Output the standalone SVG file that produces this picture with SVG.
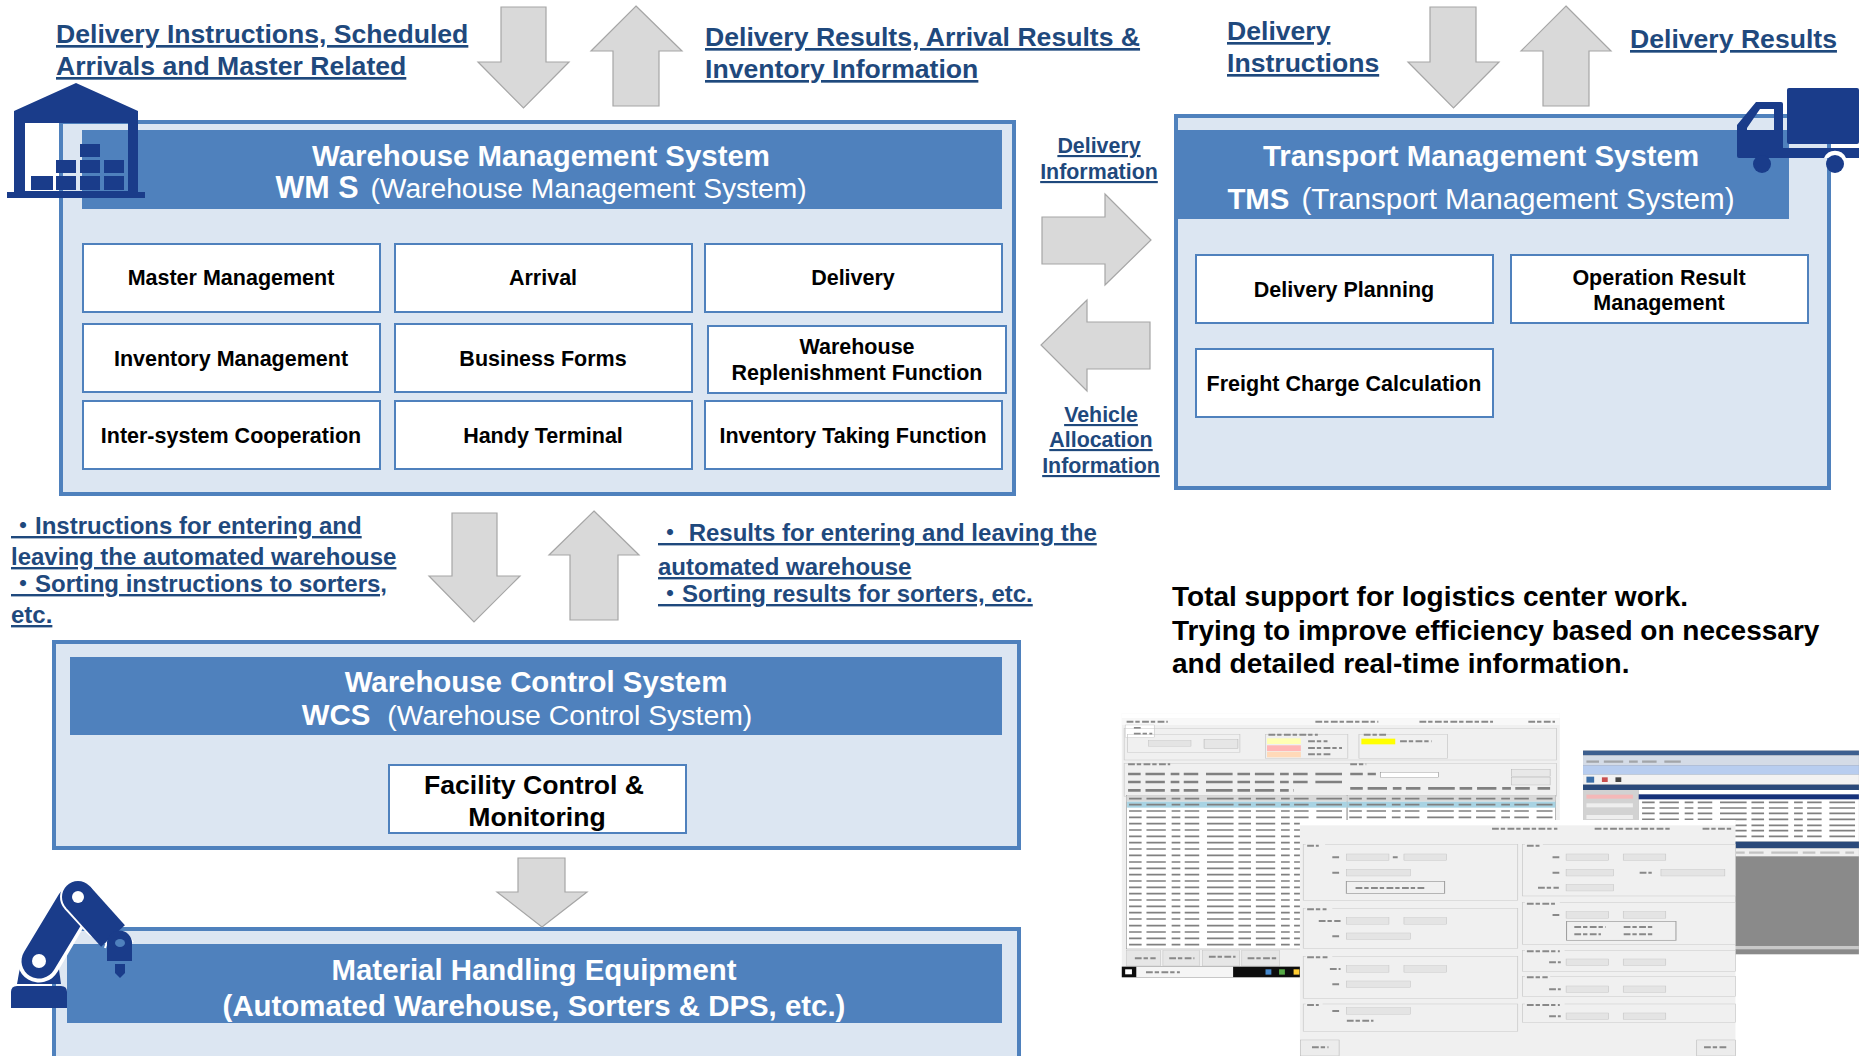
<svg xmlns="http://www.w3.org/2000/svg" width="1859" height="1056" viewBox="0 0 1859 1056">
<defs>
<style>
text{font-family:"Liberation Sans",Arial,"Noto Sans CJK JP",sans-serif}
.panel{fill:#dce6f2;stroke:#4f81bd;stroke-width:4}
.hdr{fill:#4f81bd}
.box{fill:#fff;stroke:#4f81bd;stroke-width:2}
.arrow{fill:#d9d9d9;stroke:#a6a6a6;stroke-width:1.2}
.t{font-size:21.5px;font-weight:700;fill:#000;text-anchor:middle}
.h{font-size:29.4px;font-weight:700;fill:#fff;text-anchor:middle}
.hs{font-weight:400}
.l{font-size:26.6px;font-weight:700;fill:#1f497d;text-decoration:underline}
.m{font-size:21.4px;text-anchor:middle}
.s{font-size:24px}
.big{font-size:28px;font-weight:700;fill:#000}
.ic{fill:#1a3c8a}
.g{fill:none;stroke:#c8c8c8;stroke-width:1.5}
.f{fill:#e4e4e4;stroke:#bdbdbd;stroke-width:1}
.d{fill:none;stroke:#888;stroke-width:6;stroke-dasharray:14 4 9 5}
.dk{fill:none;stroke:#808080;stroke-width:7;stroke-dasharray:26 10 40 12 18 9 30 16 55 10}
</style>
<filter id="soft" x="-2%" y="-2%" width="104%" height="104%"><feGaussianBlur stdDeviation="0.9"/></filter>
</defs>

<g id="wms">
<rect class="panel" x="61" y="122" width="953" height="372"/>
<rect class="hdr" x="82" y="130" width="920" height="79"/>
<text class="h" x="541" y="166">Warehouse Management System</text>
<text class="h" x="541" y="198"><tspan style="font-size:30.5px">WM S</tspan><tspan class="hs" style="font-size:28.2px" dx="12">(Warehouse Management System)</tspan></text>
</g>
<g id="wms-master"><rect class="box" x="83" y="244" width="297" height="68"/><text class="t" x="231" y="285">Master Management</text></g>
<g id="wms-arrival"><rect class="box" x="395" y="244" width="297" height="68"/><text class="t" x="543" y="285">Arrival</text></g>
<g id="wms-delivery"><rect class="box" x="705" y="244" width="297" height="68"/><text class="t" x="853" y="285">Delivery</text></g>
<g id="wms-inventory"><rect class="box" x="83" y="324" width="297" height="68"/><text class="t" x="231" y="366">Inventory Management</text></g>
<g id="wms-forms"><rect class="box" x="395" y="324" width="297" height="68"/><text class="t" x="543" y="366">Business Forms</text></g>
<g id="wms-replenish"><rect class="box" x="708" y="326" width="298" height="67"/><text class="t" x="857" y="354">Warehouse</text><text class="t" x="857" y="380">Replenishment Function</text></g>
<g id="wms-cooperation"><rect class="box" x="83" y="401" width="297" height="68"/><text class="t" x="231" y="443">Inter-system Cooperation</text></g>
<g id="wms-handy"><rect class="box" x="395" y="401" width="297" height="68"/><text class="t" x="543" y="443">Handy Terminal</text></g>
<g id="wms-taking"><rect class="box" x="705" y="401" width="297" height="68"/><text class="t" x="853" y="443">Inventory Taking Function</text></g>

<g id="tms">
<rect class="panel" x="1176" y="116" width="653" height="372"/>
<rect class="hdr" x="1174" y="130" width="615" height="89"/>
<text class="h" x="1481" y="166">Transport Management System</text>
<text class="h" x="1481" y="209"><tspan>TMS</tspan><tspan class="hs" style="font-size:29.6px" dx="12">(Transport Management System)</tspan></text>
</g>
<g id="tms-planning"><rect class="box" x="1196" y="255" width="297" height="68"/><text class="t" x="1344" y="297">Delivery Planning</text></g>
<g id="tms-result"><rect class="box" x="1511" y="255" width="297" height="68"/><text class="t" x="1659" y="285">Operation Result</text><text class="t" x="1659" y="310">Management</text></g>
<g id="tms-freight"><rect class="box" x="1196" y="349" width="297" height="68"/><text class="t" x="1344" y="391">Freight Charge Calculation</text></g>

<g id="wcs">
<rect class="panel" x="54" y="642" width="965" height="206"/>
<rect class="hdr" x="70" y="657" width="932" height="78"/>
<text class="h" x="536" y="692">Warehouse Control System</text>
<text class="h" x="527" y="725"><tspan>WCS</tspan><tspan class="hs" style="font-size:28.4px" dx="17">(Warehouse Control System)</tspan></text>
</g>
<g id="wcs-facility"><rect class="box" x="389" y="765" width="297" height="68"/><text class="t" style="font-size:26.6px" x="534" y="794">Facility Control &amp;</text><text class="t" style="font-size:26.6px" x="537" y="826">Monitoring</text></g>

<g id="mhe">
<rect class="panel" x="54" y="929" width="965" height="140"/>
<rect class="hdr" x="67" y="944" width="935" height="79"/>
<text class="h" x="534" y="980">Material Handling Equipment</text>
<text class="h" x="534" y="1016">(Automated Warehouse, Sorters &amp; DPS, etc.)</text>
</g>

<g id="connectors">
<polygon class="arrow" points="501,7 546,7 546,62 569,62 523.500,108 478,62 501,62"/>
<polygon class="arrow" points="636,6 682,51 659,51 659,106 613,106 613,51 591,51"/>
<polygon class="arrow" points="1430,7 1476,7 1476,62 1499,62 1453.500,108 1408,62 1430,62"/>
<polygon class="arrow" points="1566,6 1611,51 1589,51 1589,106 1543,106 1543,51 1521,51"/>
<polygon class="arrow" points="1042,217 1105,217 1105,194 1151,240 1105,285 1105,264 1042,264"/>
<polygon class="arrow" points="1150,322 1087,322 1087,300 1041,345 1087,391 1087,369 1150,369"/>
<polygon class="arrow" points="452,513 497,513 497,576 520,576 474,622 429,576 452,576"/>
<polygon class="arrow" points="594,511 639,555 618,555 618,620 570,620 570,555 549,555"/>
<polygon class="arrow" points="518,858 565,858 565,892 587,892 542,927 497,892 518,892"/>
</g>

<g id="label-delivery-instructions"><text class="l" x="56" y="43">Delivery Instructions, Scheduled</text><text class="l" x="56" y="75">Arrivals and Master Related</text></g>
<g id="label-delivery-results"><text class="l" x="705" y="46">Delivery Results, Arrival Results &amp;</text><text class="l" x="705" y="78">Inventory Information</text></g>
<g id="label-tms-instructions"><text class="l" x="1227" y="40">Delivery</text><text class="l" x="1227" y="72">Instructions</text></g>
<g id="label-tms-results"><text class="l" x="1630" y="48">Delivery Results</text></g>
<g id="label-delivery-information"><text class="l m" x="1099" y="153">Delivery</text><text class="l m" x="1099" y="179">Information</text></g>
<g id="label-vehicle"><text class="l m" x="1101" y="422">Vehicle</text><text class="l m" x="1101" y="447">Allocation</text><text class="l m" x="1101" y="473">Information</text></g>
<g id="label-wcs-instructions"><text class="l s" x="11" y="534">・Instructions for entering and</text><text class="l s" x="11" y="565">leaving the automated warehouse</text><text class="l s" x="11" y="592">・Sorting instructions to sorters,</text><text class="l s" x="11" y="623">etc.</text></g>
<g id="label-wcs-results"><text class="l s" x="658" y="541">・ Results for entering and leaving the</text><text class="l s" x="658" y="575">automated warehouse</text><text class="l s" x="658" y="602">・Sorting results for sorters, etc.</text></g>
<g id="summary"><text class="big" x="1172" y="606">Total support for logistics center work.</text><text class="big" x="1172" y="640">Trying to improve efficiency based on necessary</text><text class="big" x="1172" y="673">and detailed real-time information.</text></g>

<g id="icon-warehouse" class="ic">
<path fill-rule="evenodd" d="M76 83L138 111V192H145V198H7V192H14V111ZM25 123V191H128V123Z"/>
<rect x="31" y="176" width="22" height="14"/><rect x="56" y="176" width="20" height="14"/><rect x="80" y="176" width="20" height="14"/><rect x="104" y="176" width="20" height="14"/>
<rect x="56" y="160" width="20" height="13"/><rect x="80" y="160" width="20" height="13"/><rect x="104" y="160" width="20" height="13"/>
<rect x="80" y="144" width="20" height="13"/>
</g>

<g id="icon-truck" class="ic">
<rect x="1787" y="88" width="72" height="56" rx="2"/>
<path fill-rule="evenodd" d="M1737 125L1756 102H1781Q1783 102 1783 104V148H1859V158H1739Q1737 158 1737 156ZM1747 128V130H1774V109H1760Z"/>
<path d="M1824 158A12 12 0 0 1 1846 158Z" fill="#fff"/>
<circle cx="1762" cy="164" r="9"/><circle cx="1835" cy="164" r="9"/>
</g>

<g id="icon-robot" class="ic">
<path d="M11 992Q11 986 17 986H61Q67 986 67 992V1008H11Z"/>
<path d="M17 984L21 962H58L61 984Z"/>
<path d="M39 961L70 908" fill="none" stroke="#fff" stroke-width="43" stroke-linecap="round"/>
<path d="M39 961L74 903" fill="none" stroke="#1a3c8a" stroke-width="35" stroke-linecap="round"/>
<path d="M78 897L100 921" fill="none" stroke="#fff" stroke-width="36" stroke-linecap="round"/>
<circle cx="78" cy="897" r="16"/>
<path d="M78 897L113 936" fill="none" stroke="#1a3c8a" stroke-width="32"/>
<path d="M105 948A15.500 15.500 0 0 1 133 942" fill="none" stroke="#fff" stroke-width="2"/>
<path d="M107 961V943A12.500 12.500 0 0 1 132 943V961Z"/>
<circle cx="39" cy="961" r="7" fill="#fff"/><circle cx="78" cy="897" r="6" fill="#fff"/>
<ellipse cx="120" cy="943" rx="5" ry="4" fill="#4f81bd"/>
<path d="M115 964H125V973L120 978L115 973Z"/>
</g>

<g id="screens" transform="matrix(0.484 0 0 0.3333 1100 700)" filter="url(#soft)">
<g id="screen-back">
<rect x="998" y="152" width="570" height="611" fill="#8a8a8a"/>
<rect x="998" y="152" width="570" height="14" fill="#3d5f8f"/>
<rect x="998" y="166" width="570" height="30" fill="#d4dbe6"/>
<path class="dk" d="M1005 185H1200" stroke-opacity=".6"/>
<rect x="998" y="196" width="570" height="28" fill="#b8cdef"/>
<rect x="998" y="224" width="570" height="30" fill="#f2f2f2"/>
<rect x="1005" y="230" width="16" height="18" fill="#3b6ea8"/><rect x="1037" y="232" width="12" height="14" fill="#c94f4f"/><rect x="1065" y="232" width="12" height="14" fill="#444"/>
<rect x="998" y="254" width="570" height="16" fill="#2a4a7a"/>
<rect x="998" y="270" width="115" height="100" fill="#d2d2d2"/>
<rect x="1005" y="284" width="96" height="12" fill="#f4b8b8"/><rect x="1005" y="310" width="96" height="12" fill="#eee"/><rect x="1005" y="345" width="96" height="12" fill="#eee"/>
<rect x="1113" y="270" width="455" height="155" fill="#fff"/>
<rect x="1113" y="283" width="455" height="15" fill="#16307a"/>
<path class="dk" d="M1120 307H1560M1120 324H1560M1120 340H1560M1120 358H1560M1120 376H1560M1120 392H1560M1120 409H1560" style="stroke-width:5"/>
<rect x="998" y="425" width="570" height="20" fill="#2a4a7a"/>
<rect x="998" y="445" width="570" height="24" fill="#efefef"/>
<path class="dk" d="M1000 458H1560" stroke-opacity=".4"/>
<rect x="998" y="738" width="570" height="10" fill="#c8c8c8"/>
</g>
<g id="screen-front-left">
<rect x="45" y="40" width="905" height="792" fill="#f0f0f0"/>
<rect x="45" y="40" width="905" height="15" fill="#fff"/>
<rect x="45" y="55" width="905" height="20" fill="#f8f8f8"/>
<path class="d" d="M55 65H140M445 65H575M660 65H812M885 65H940"/>
<rect x="52" y="75" width="60" height="37" fill="#fff" stroke="#bbb"/>
<path class="d" d="M70 84H85M70 101H108"/>
<rect class="g" x="50" y="85" width="893" height="95"/>
<rect class="g" x="57" y="103" width="232" height="55"/>
<rect class="f" x="100" y="121" width="88" height="18"/>
<rect x="215" y="119" width="70" height="27" fill="#e6e6e6" stroke="#aaa"/>
<rect class="g" x="342" y="103" width="170" height="73"/>
<rect class="g" x="535" y="103" width="183" height="73"/>
<rect x="345" y="115" width="70" height="17" fill="#ffffb4"/><rect x="345" y="136" width="70" height="17" fill="#ffb6b6"/><rect x="345" y="155" width="70" height="17" fill="#ffd9b8"/>
<rect x="540" y="116" width="70" height="17" fill="#ff0"/>
<path class="d" d="M348 104H450M545 104H595M430 124H470M430 144H500M430 163H480M620 124H685"/>
<rect class="g" x="50" y="190" width="893" height="100"/>
<path class="d" d="M58 193H145M517 193H550"/>
<path class="dk" d="M58 222H500M517 222H570M58 246H500M58 271H400M517 265H930" style="stroke-width:8"/>
<rect x="579" y="217" width="120" height="16" fill="#fff" stroke="#777"/>
<rect x="850" y="208" width="80" height="22" fill="#e8e8e8" stroke="#aaa"/><rect x="850" y="233" width="80" height="22" fill="#e8e8e8" stroke="#aaa"/>
<rect x="55" y="286" width="455" height="461" fill="#fff" stroke="#777"/>
<rect x="55" y="286" width="455" height="19" fill="#d9d9d9"/>
<rect x="511" y="286" width="430" height="80" fill="#fff" stroke="#777"/>
<rect x="511" y="286" width="430" height="19" fill="#d9d9d9"/>
<rect x="56" y="305" width="454" height="18" fill="#a8d3e3"/><rect x="511" y="305" width="430" height="18" fill="#a8d3e3"/>
<path class="dk" d="M60 296H500M515 296H935M60 314H500M515 314H935M60 333H500M60 352H500M60 371H500M60 390H500M60 409H500M60 428H500M60 447H500M60 466H500M60 486H500M60 505H500M60 524H500M60 543H500M60 562H500M60 581H500M60 600H500M60 619H500M60 638H500M60 657H500M60 677H500M60 696H500M60 715H500M60 734H500M515 333H935M515 352H935" style="stroke-width:5"/>
<rect x="55" y="752" width="70" height="46" fill="#e6e6e6" stroke="#bbb"/><rect x="130" y="752" width="75" height="46" fill="#e6e6e6" stroke="#bbb"/><rect x="212" y="752" width="76" height="46" fill="#e6e6e6" stroke="#bbb"/><rect x="293" y="752" width="78" height="46" fill="#e6e6e6" stroke="#bbb"/>
<path class="d" d="M72 775H115M143 775H195M225 770H280M305 775H365"/>
<rect x="45" y="800" width="905" height="32" fill="#111"/>
<rect x="75" y="800" width="200" height="32" fill="#f5f5f5"/>
<rect x="52" y="808" width="14" height="15" fill="#fff"/>
<path class="d" d="M95 817H165"/>
<rect x="342" y="808" width="12" height="16" fill="#48c"/><rect x="370" y="808" width="12" height="16" fill="#5a4"/><rect x="400" y="808" width="12" height="16" fill="#fc3"/>
</g>
<g id="screen-front">
<rect x="413" y="360" width="900" height="708" fill="#f0f0f0"/>
<rect x="413" y="360" width="900" height="16" fill="#fff"/>
<path class="d" d="M810 386H945M1022 386H1180M1245 386H1305"/>
<rect class="g" x="420" y="433" width="443" height="168"/><rect class="g" x="420" y="625" width="443" height="120"/><rect class="g" x="420" y="770" width="443" height="125"/><rect class="g" x="420" y="912" width="443" height="83"/>
<rect class="g" x="873" y="433" width="440" height="155"/><rect class="g" x="873" y="608" width="440" height="125"/><rect class="g" x="873" y="752" width="440" height="62"/><rect class="g" x="873" y="830" width="440" height="60"/><rect class="g" x="873" y="912" width="440" height="55"/>
<path fill="none" stroke="#f0f0f0" stroke-width="8" d="M425 433H465M425 625H480M425 770H480M425 912H460M878 433H915M878 608H950M878 752H960M878 830H930M878 912H960"/>
<path class="d" d="M428 437H452M428 628H468M428 772H470M428 915H452M882 437H908M882 611H940M882 754H950M882 832H925M882 915H950"/>
<rect class="f" x="509" y="462" width="88" height="20"/><rect class="f" x="628" y="462" width="88" height="20"/><rect class="f" x="509" y="508" width="132" height="20"/>
<rect x="509" y="545" width="203" height="36" fill="none" stroke="#999" stroke-width="2"/>
<path class="d" d="M480 472H497M480 518H495M528 564H672M605 472H615"/>
<rect class="f" x="509" y="653" width="88" height="20"/><rect class="f" x="628" y="653" width="88" height="20"/><rect class="f" x="509" y="699" width="132" height="20"/>
<path class="d" d="M452 663H497M480 709H495"/>
<rect class="f" x="509" y="797" width="88" height="20"/><rect class="f" x="628" y="797" width="88" height="20"/><rect class="f" x="509" y="843" width="132" height="20"/>
<path class="d" d="M475 807H497M480 853H495"/>
<rect class="f" x="509" y="923" width="132" height="20"/>
<path class="d" d="M480 933H495M510 962H565"/>
<rect class="f" x="963" y="462" width="88" height="20"/><rect class="f" x="1081" y="462" width="88" height="20"/><rect class="f" x="963" y="508" width="98" height="20"/><rect class="f" x="1159" y="508" width="132" height="20"/><rect class="f" x="963" y="553" width="98" height="20"/>
<path class="d" d="M935 472H952M935 518H952M905 563H948M1115 518H1140"/>
<rect class="f" x="963" y="635" width="88" height="20"/><rect class="f" x="1081" y="635" width="88" height="20"/>
<rect x="964" y="665" width="226" height="56" fill="none" stroke="#999" stroke-width="2"/>
<path class="d" d="M935 645H952M980 681H1045M1082 681H1145M980 703H1035M1082 703H1145"/>
<rect class="f" x="963" y="777" width="88" height="20"/><rect class="f" x="1081" y="777" width="88" height="20"/>
<rect class="f" x="963" y="858" width="88" height="20"/><rect class="f" x="1081" y="858" width="88" height="20"/>
<rect class="f" x="963" y="939" width="88" height="20"/><rect class="f" x="1081" y="939" width="88" height="20"/>
<path class="d" d="M928 787H952M928 868H952M928 949H952"/>
<rect x="414" y="1020" width="80" height="48" fill="#ececec" stroke="#aaa"/><rect x="1233" y="1020" width="80" height="48" fill="#ececec" stroke="#aaa"/>
<path class="d" d="M438 1042H472M1248 1042H1296"/>
</g>
</g>
</svg>
